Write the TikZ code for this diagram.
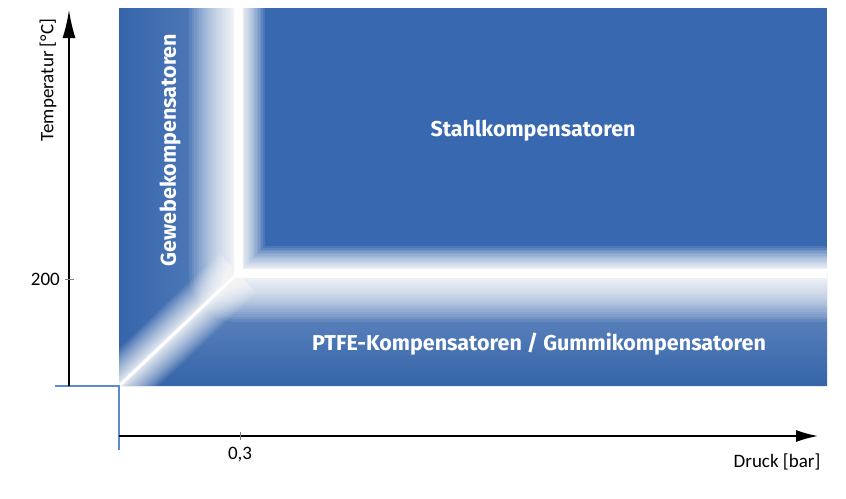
\documentclass[tikz,border=0pt]{standalone}
\usepackage{fontspec}
\setmainfont{Carlito}
\newfontfamily\labfont{Fira Sans}
\usetikzlibrary{arrows.meta}
\definecolor{mainblue}{RGB}{55,104,176}
\definecolor{edgeblue}{RGB}{92,140,205}
\tikzset{
  region/.style={text=white,font=\labfont\bfseries\fontsize{21.5}{25}\selectfont,inner sep=0pt},
  axislabel/.style={text=black,font=\fontsize{19}{22}\selectfont,inner sep=0pt},
  axisline/.style={line width=1.6pt,black},
  glow/.style={white,opacity=0.085,line cap=butt,line join=round},
  edge/.style={edgeblue,line width=1.5pt}
}
\begin{document}
\begin{tikzpicture}[x=1pt,y=-1pt]
\useasboundingbox (0,0) rectangle (846,498);
\coordinate (TL) at (119,8);
\coordinate (TR) at (827,8);
\coordinate (BR) at (827,386);
\coordinate (BRr) at (827,273);
\coordinate (J) at (238,273);
\coordinate (Jtop) at (238,8);
\coordinate (Jt) at (238,0);
\coordinate (Jr) at (840,273);
\coordinate (O) at (119,386);
% background
\begin{scope}
\clip (TL) rectangle (BR);
\fill[mainblue] (TL) rectangle (BR);
\begin{scope}
\clip (O) -- (J) -- (BRr) -- (BR) -- cycle;
\shade[top color=mainblue!72!white,bottom color=mainblue!96!black] (119,273) rectangle (BR);
\end{scope}
\begin{scope}
\clip (TL) -- (Jtop) -- (J) -- (O) -- cycle;
\shade[left color=mainblue!97!black,right color=mainblue!82!white] (TL) rectangle (238,386);
\end{scope}
% wide glow outside the upper right field
\begin{scope}
\clip (TL) -- (Jtop) -- (J) -- (BRr) -- (BR) -- (O) -- cycle;
\foreach \k in {1,...,32}{
  \pgfmathsetmacro{\w}{88*(\k/32)^2+10}
  \draw[glow,line width=\w pt] (Jt) -- (J) -- (Jr);
}
\foreach \k in {1,...,26}{
  \pgfmathsetmacro{\w}{50*(\k/26)^2+4}
  \draw[glow,opacity=0.08,line width=\w pt] (O) -- (J);
}
\end{scope}
% narrow glow inside the upper right field
\begin{scope}
\clip (Jtop) rectangle (BRr);
\foreach \k in {1,...,24}{
  \pgfmathsetmacro{\w}{44*(\k/24)^2+10}
  \draw[glow,opacity=0.1,line join=miter,line width=\w pt] (Jt) -- (J) -- (Jr);
}
\end{scope}
\draw[white,line width=9pt,line join=round] (Jt) -- (J) -- (Jr);
\draw[white,line width=3pt] (O) -- (J);
\end{scope}
% blue edge lines
\coordinate (E1) at (55,386);
\coordinate (E2) at (119,450);
\draw[edge] (E1) -- (O) -- (E2);
% axes
\coordinate (Ytop) at (69,10);
\coordinate (Ybot) at (69,386);
\coordinate (Xl) at (119,436);
\coordinate (Xr) at (818,436);
\draw[axisline,-{Latex[length=28pt,width=13pt]}] (Ybot) -- (Ytop);
\draw[axisline,-{Latex[length=22pt,width=12pt]}] (Xl) -- (Xr);
% ticks
\coordinate (T1a) at (240,432);
\coordinate (T1b) at (240,440);
\coordinate (T2a) at (65,279);
\coordinate (T2b) at (74,279);
\draw[gray,line width=0.8pt] (T1a) -- (T1b);
\draw[gray,line width=0.8pt] (T2a) -- (T2b);
% labels
\node[axislabel] (v03) at (240,455) {0,3};
\node[axislabel,anchor=east] (v200) at (60,279) {200};
\node[axislabel] (druck) at (777,462) {Druck [bar]};
\node[axislabel,rotate=90] (temp) at (48,80) {Temperatur [°C]};
\node[region] (stahl) at (533,131) {Stahlkompensatoren};
\node[region] (ptfe) at (539,344) {PTFE-Kompensatoren / Gummikompensatoren};
\node[region,rotate=90] (gewebe) at (170,150) {Gewebekompensatoren};
\end{tikzpicture}
\end{document}
